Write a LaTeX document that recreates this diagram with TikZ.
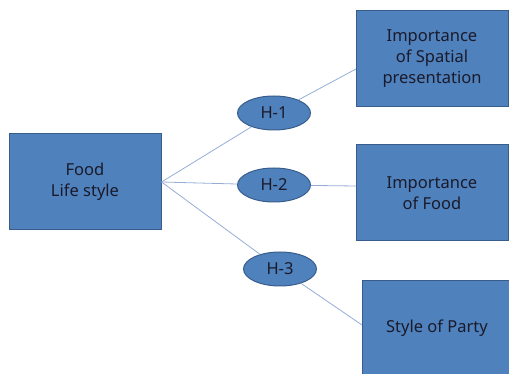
\documentclass[tikz,border=0pt]{standalone}
\usepackage{fontspec}
\setmainfont{Noto Sans}
\usetikzlibrary{shapes.geometric}
\definecolor{boxfill}{HTML}{4F81BD}
\definecolor{boxline}{HTML}{385D8A}
\definecolor{linkcol}{HTML}{95ADD6}
\definecolor{txt}{HTML}{1A1A2A}
\tikzset{
  box/.style={draw=boxline, line width=1pt, fill=boxfill, minimum width=152pt, minimum height=96pt, inner sep=0pt, align=center, text=txt, font=\fontsize{16.5}{21}\selectfont},
  hyp/.style={ellipse, draw=boxline, line width=1pt, fill=boxfill, minimum width=73pt, minimum height=34pt, inner sep=0pt, text=txt, font=\fontsize{16.5}{18}\selectfont},
  link/.style={draw=linkcol, line width=0.8pt}
}
\begin{document}
\begin{tikzpicture}[x=1pt,y=-1pt]
\useasboundingbox (0,0) rectangle (509,374);
\begin{scope}
\clip (0,0) rectangle (509,374);
\node[box] (food) at (85,182) {Food\\Life style};
\node[box] (spat) at (432,59) {Importance\\of Spatial\\presentation};
\node[box] (imp) at (432,193) {Importance\\of Food};
\node[box, minimum height=110pt, anchor=north west] (party) at (362,280) {};
\node[text=txt, font=\fontsize{16.5}{21}\selectfont] (partylbl) at (437,328) {Style of Party};
\coordinate (c1) at (356,69);
\coordinate (c2) at (356,186);
\coordinate (c3) at (362,325);
\node[hyp] (h1) at (274,113) {H-1};
\node[hyp] (h2) at (274,185) {H-2};
\node[hyp] (h3) at (280,269) {H-3};
\end{scope}
\draw[link] (food.east) -- (h1);
\draw[link] (h1) -- (c1);
\draw[link] (food.east) -- (h2);
\draw[link] (h2) -- (c2);
\draw[link] (food.east) -- (h3);
\draw[link] (h3) -- (c3);
\end{tikzpicture}
\end{document}
